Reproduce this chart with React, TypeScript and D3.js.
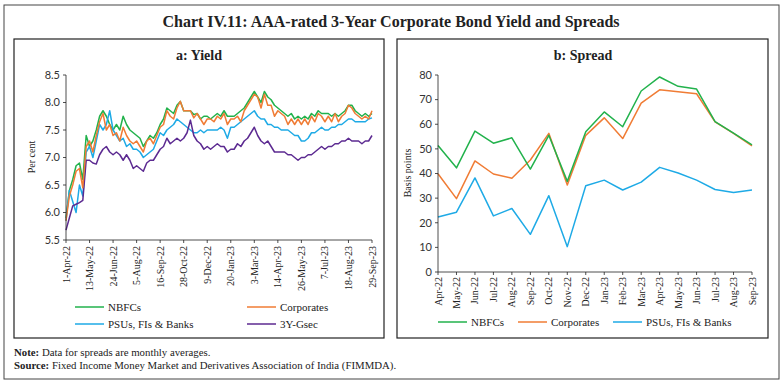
import * as d3 from "d3";

// a: Yield — readings every 6 days from 1-Apr-22 to 29-Sep-23 (per cent)
const yieldStart = new Date(2022, 3, 1);
const yieldEnd = new Date(2023, 8, 29);
const yieldStepDays = 6;

const nbfcYield = [
  5.9, 6.4, 6.6, 6.85, 6.9, 6.6, 7.4, 7.2, 7.3, 7.5, 7.75, 7.85, 7.75, 7.6, 7.5, 7.6, 7.5, 7.75, 7.6, 7.5,
  7.45, 7.4, 7.35, 7.2, 7.3, 7.4, 7.35, 7.45, 7.6, 7.7, 7.9, 7.85, 7.8, 7.95, 8.02, 7.85, 7.85, 7.85, 7.78, 7.8,
  7.7, 7.75, 7.75, 7.7, 7.75, 7.8, 7.75, 7.85, 7.75, 7.75, 7.75, 7.8, 7.85, 7.9, 8.0, 8.1, 8.2, 8.1, 8.0, 8.2,
  8.1, 8.05, 7.95, 7.9, 7.85, 7.8, 7.75, 7.8, 7.7, 7.75, 7.7, 7.75, 7.7, 7.8, 7.75, 7.85, 7.8, 7.8, 7.8, 7.75,
  7.8, 7.75, 7.8, 7.85, 7.95, 7.95, 7.85, 7.8, 7.75, 7.8, 7.75, 7.8,
];
const corpYield = [
  5.85, 6.3, 6.5, 6.75, 6.8, 6.45, 7.2, 7.3, 7.1, 7.4, 7.65, 7.8, 7.5, 7.6, 7.4, 7.45, 7.3, 7.55, 7.4, 7.3,
  7.25, 7.3, 7.2, 7.1, 7.3, 7.35, 7.25, 7.4, 7.55, 7.6, 7.85, 7.75, 7.7, 7.9, 8.02, 7.85, 7.85, 7.85, 7.72, 7.8,
  7.7, 7.6, 7.7, 7.7, 7.65, 7.75, 7.7, 7.8, 7.6, 7.7, 7.7, 7.75, 7.65, 7.85, 7.95, 8.05, 8.15, 8.1, 7.9, 8.15,
  7.95, 7.95, 7.75, 7.85, 7.8, 7.75, 7.6, 7.7, 7.6, 7.7, 7.6, 7.7, 7.6, 7.75, 7.65, 7.8, 7.75, 7.65, 7.75, 7.65,
  7.8, 7.65, 7.75, 7.8, 7.95, 7.9, 7.8, 7.75, 7.7, 7.75, 7.7, 7.85,
];
const psuYield = [
  5.85, 6.4, 6.2, 6.0, 6.5, 6.3, 7.1, 7.2, 7.0, 7.3, 7.6, 7.5, 7.6, 7.85, 7.5, 7.4, 7.3, 7.35, 7.2, 7.25,
  7.15, 7.15, 7.1, 7.0, 7.05, 7.1, 7.15, 7.3, 7.45, 7.4, 7.5, 7.55, 7.6, 7.7, 7.65, 7.6, 7.55, 7.5, 7.45, 7.45,
  7.5, 7.45, 7.5, 7.5, 7.5, 7.5, 7.55, 7.5, 7.35, 7.55, 7.55, 7.6, 7.65, 7.7, 7.75, 7.8, 7.85, 7.75, 7.7, 7.7,
  7.6, 7.6, 7.55, 7.55, 7.5, 7.5, 7.5, 7.45, 7.4, 7.4, 7.3, 7.3, 7.35, 7.45, 7.45, 7.5, 7.55, 7.5, 7.5, 7.55,
  7.55, 7.6, 7.6, 7.65, 7.7, 7.7, 7.65, 7.65, 7.65, 7.65, 7.7, 7.72,
];
const gsecYield = [
  5.68, 5.9, 6.12, 6.15, 6.18, 6.22, 6.95, 6.95, 6.9, 6.88, 7.05, 7.15, 7.2, 7.1, 7.05, 7.1, 7.05, 6.95, 7.05, 6.95,
  6.8, 6.85, 6.8, 6.75, 6.9, 6.95, 6.95, 7.05, 7.15, 7.2, 7.35, 7.25, 7.3, 7.35, 7.3, 7.35, 7.45, 7.68, 7.4, 7.3,
  7.25, 7.15, 7.2, 7.15, 7.2, 7.25, 7.2, 7.2, 7.1, 7.15, 7.15, 7.25, 7.2, 7.3, 7.35, 7.45, 7.55, 7.4, 7.3, 7.25,
  7.3, 7.2, 7.1, 7.1, 7.1, 7.1, 7.05, 7.05, 7.0, 6.95, 7.0, 7.0, 7.05, 7.05, 7.1, 7.15, 7.2, 7.15, 7.2, 7.2,
  7.25, 7.25, 7.3, 7.3, 7.35, 7.3, 7.3, 7.3, 7.25, 7.3, 7.3, 7.4,
];
const yieldTicks = [5.5, 6.0, 6.5, 7.0, 7.5, 8.0, 8.5];

// b: Spread — monthly averages (basis points)
const months = [
  "Apr-22", "May-22", "Jun-22", "Jul-22", "Aug-22", "Sep-22", "Oct-22", "Nov-22", "Dec-22",
  "Jan-23", "Feb-23", "Mar-23", "Apr-23", "May-23", "Jun-23", "Jul-23", "Aug-23", "Sep-23",
];
const nbfcSpread = [51.4, 42.3, 57.2, 52.3, 54.5, 41.8, 55.5, 36.8, 57, 65, 59, 73.5, 79.2, 75.4, 74.3, 61.1, 56.4, 51.6];
const corpSpread = [39.9, 29.8, 45.1, 39.8, 38.1, 45.5, 56.3, 35.3, 55.5, 62.6, 54.2, 68.6, 74, 73.2, 72.4, 61, 56.3, 51.2];
const psuSpread = [22.3, 24.3, 38.2, 22.8, 25.8, 15.3, 31, 10.3, 35, 37.3, 33.3, 36.5, 42.5, 40.2, 37.3, 33.5, 32.3, 33.3];
const spreadTicks = [0, 10, 20, 30, 40, 50, 60, 70, 80];

const GREEN = "#22b24c";
const ORANGE = "#f07c35";
const BLUE = "#1eaae6";
const PURPLE = "#5c2a91";

const serif = "'Liberation Serif', 'DejaVu Serif', serif";
const sans = "Lato, 'Open Sans', sans-serif";

const YieldPanel = () => {
  const left = 66, right = 372, top = 75, bottom = 240;
  const x = d3.scaleTime().domain([yieldStart, yieldEnd]).range([left, right]);
  const y = d3.scaleLinear().domain([5.5, 8.5]).range([bottom, top]);
  const dates = nbfcYield.map((_, i) => d3.timeDay.offset(yieldStart, i * yieldStepDays));
  const line = d3.line<number>().x((_, i) => x(dates[i])).y((d) => y(d));
  const xTicks = d3.timeDay.range(yieldStart, d3.timeDay.offset(yieldEnd, 1), 42);
  const fmt = d3.timeFormat("%-d-%b-%y");

  const series = [
    { name: "NBFCs", values: nbfcYield, color: GREEN },
    { name: "PSUs, FIs & Banks", values: psuYield, color: BLUE },
    { name: "3Y-Gsec", values: gsecYield, color: PURPLE },
    { name: "Corporates", values: corpYield, color: ORANGE },
  ];
  const legend = [
    { name: "NBFCs", color: GREEN, lx: 75, ly: 307 },
    { name: "Corporates", color: ORANGE, lx: 247, ly: 307 },
    { name: "PSUs, FIs & Banks", color: BLUE, lx: 75, ly: 324 },
    { name: "3Y-Gsec", color: PURPLE, lx: 247, ly: 324 },
  ];

  return (
    <g>
      {series.map((s) => (
        <path key={s.name} d={line(s.values) ?? ""} fill="none" stroke={s.color} strokeWidth={1.5} strokeLinejoin="round" />
      ))}
      <line x1={left} x2={left} y1={top} y2={bottom} stroke="#222" strokeWidth={0.8} />
      <line x1={left} x2={right} y1={bottom} y2={bottom} stroke="#222" strokeWidth={0.8} />
      {yieldTicks.map((t) => (
        <g key={t}>
          <line x1={left - 3} x2={left} y1={y(t)} y2={y(t)} stroke="#222" strokeWidth={0.8} />
          <text x={left - 6} y={y(t)} dy="0.35em" textAnchor="end" fontFamily={sans} fontSize={11} fill="#333">
            {t.toFixed(1)}
          </text>
        </g>
      ))}
      {xTicks.map((t) => (
        <g key={+t}>
          <line x1={x(t)} x2={x(t)} y1={bottom} y2={bottom + 3} stroke="#222" strokeWidth={0.8} />
          <text transform={`translate(${x(t) + 3.5},${bottom + 6}) rotate(-90)`} textAnchor="end" fontFamily={serif} fontSize={10} fill="#222">
            {fmt(t)}
          </text>
        </g>
      ))}
      <text transform={`translate(35,157) rotate(-90)`} textAnchor="middle" fontFamily={serif} fontSize={10} fill="#222">
        Per cent
      </text>
      {legend.map((l) => (
        <g key={l.name}>
          <line x1={l.lx} x2={l.lx + 29} y1={l.ly} y2={l.ly} stroke={l.color} strokeWidth={1.5} />
          <text x={l.lx + 33} y={l.ly} dy="0.35em" fontFamily={serif} fontSize={11} fill="#222">
            {l.name}
          </text>
        </g>
      ))}
    </g>
  );
};

const SpreadPanel = () => {
  const left = 438, right = 752, top = 75, bottom = 272;
  const x = d3.scalePoint<string>().domain(months).range([left, right]);
  const y = d3.scaleLinear().domain([0, 80]).range([bottom, top]);
  const line = d3.line<number>().x((_, i) => x(months[i]) ?? 0).y((d) => y(d));
  const series = [
    { name: "PSUs, FIs & Banks", values: psuSpread, color: BLUE },
    { name: "Corporates", values: corpSpread, color: ORANGE },
    { name: "NBFCs", values: nbfcSpread, color: GREEN },
  ];
  const legend = [
    { name: "NBFCs", color: GREEN, lx: 438 },
    { name: "Corporates", color: ORANGE, lx: 518 },
    { name: "PSUs, FIs & Banks", color: BLUE, lx: 613 },
  ];
  return (
    <g>
      {series.map((s) => (
        <path key={s.name} d={line(s.values) ?? ""} fill="none" stroke={s.color} strokeWidth={1.5} strokeLinejoin="round" />
      ))}
      <line x1={left} x2={left} y1={top} y2={bottom} stroke="#222" strokeWidth={0.8} />
      <line x1={left} x2={right} y1={bottom} y2={bottom} stroke="#222" strokeWidth={0.8} />
      {spreadTicks.map((t) => (
        <g key={t}>
          <line x1={left - 3} x2={left} y1={y(t)} y2={y(t)} stroke="#222" strokeWidth={0.8} />
          <text x={left - 6} y={y(t)} dy="0.35em" textAnchor="end" fontFamily={sans} fontSize={11} fill="#333">
            {t}
          </text>
        </g>
      ))}
      {months.map((m) => (
        <g key={m}>
          <line x1={x(m)} x2={x(m)} y1={bottom} y2={bottom + 3} stroke="#222" strokeWidth={0.8} />
          <text transform={`translate(${(x(m) ?? 0) + 3.5},${bottom + 5}) rotate(-90)`} textAnchor="end" fontFamily={serif} fontSize={10} fill="#222">
            {m}
          </text>
        </g>
      ))}
      <text transform={`translate(411,173) rotate(-90)`} textAnchor="middle" fontFamily={serif} fontSize={10} fill="#222">
        Basis points
      </text>
      {legend.map((l) => (
        <g key={l.name}>
          <line x1={l.lx} x2={l.lx + 29} y1={322} y2={322} stroke={l.color} strokeWidth={1.5} />
          <text x={l.lx + 33} y={322} dy="0.35em" fontFamily={serif} fontSize={11} fill="#222">
            {l.name}
          </text>
        </g>
      ))}
    </g>
  );
};

export default function App() {
  return (
    <div style={{ position: "absolute", left: 0, top: 0 }}>
      <svg width={783} height={384} style={{ display: "block", background: "#fff" }}>
        <rect x={4} y={5} width={775} height={374} fill="none" stroke="#444" strokeWidth={1} />
        <text x={391} y={27} textAnchor="middle" fontFamily={serif} fontSize={16} fontWeight="bold" fill="#222">
          Chart IV.11: AAA-rated 3-Year Corporate Bond Yield and Spreads
        </text>
        <rect x={14} y={39} width={370} height={299} fill="none" stroke="#222" strokeWidth={1.2} />
        <rect x={397} y={39} width={371} height={299} fill="none" stroke="#222" strokeWidth={1.2} />
        <text x={199} y={60} textAnchor="middle" fontFamily={serif} fontSize={14} fontWeight="bold" fill="#222">
          a: Yield
        </text>
        <text x={583} y={60} textAnchor="middle" fontFamily={serif} fontSize={14} fontWeight="bold" fill="#222">
          b: Spread
        </text>
        <YieldPanel />
        <SpreadPanel />
        <text x={14} y={356} fontFamily={serif} fontSize={10.8} fill="#222">
          <tspan fontWeight="bold">Note:</tspan> Data for spreads are monthly averages.
        </text>
        <text x={14} y={369} fontFamily={serif} fontSize={10.8} fill="#222">
          <tspan fontWeight="bold">Source:</tspan> Fixed Income Money Market and Derivatives Association of India (FIMMDA).
        </text>
      </svg>
    </div>
  );
}
